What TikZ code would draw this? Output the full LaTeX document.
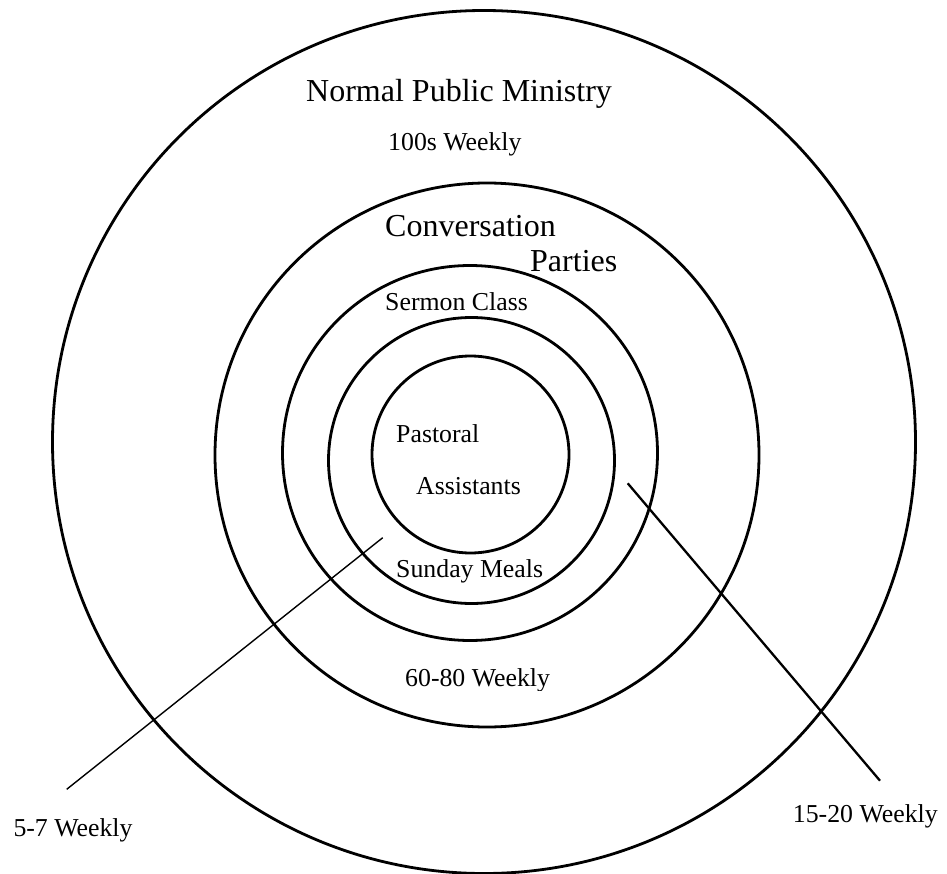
\documentclass[tikz,border=0pt]{standalone}
\usepackage{fontspec}
\setmainfont{Liberation Serif}
\begin{document}
\begin{tikzpicture}[x=1pt,y=-1pt,
  ring/.style={draw=black, line width=2.8pt, circle, inner sep=0pt, outer sep=0pt},
  bigtxt/.style={anchor=base west, inner sep=0pt, font=\fontsize{32}{38}\selectfont},
  smalltxt/.style={anchor=base west, inner sep=0pt, font=\fontsize{25.8}{31}\selectfont},
  leader/.style={draw=black, line width=1.4pt}]
\useasboundingbox (0,0) rectangle (947,874);
\fill[white] (0,0) rectangle (947,874);
% rings
\node[ring, minimum size=863pt] (outer) at (484,442) {};
\node[ring, minimum size=544pt] (conv) at (487,455) {};
\node[ring, minimum size=375pt] (sermon) at (470,453) {};
\node[ring, minimum size=286pt] (meals) at (471.5,460.5) {};
\node[ring, minimum size=197pt] (pastoral) at (470.5,454.5) {};
% labels
\node[bigtxt] (tnpm) at (306,101.5) {Normal Public Ministry};
\node[smalltxt] (t100) at (388,150.5) {100s Weekly};
\node[bigtxt] (tconv) at (385,236.5) {Conversation};
\node[bigtxt] (tpart) at (530,271.5) {Parties};
\node[smalltxt] (tserm) at (385,310.5) {Sermon Class};
\node[smalltxt] (tpast) at (396,442.5) {Pastoral};
\node[smalltxt] (tassi) at (416,494) {Assistants};
\node[smalltxt] (tsund) at (396,577.3) {Sunday Meals};
\begin{scope}
\clip (380,640) rectangle (600,690);
\node[smalltxt] (t6080) at (405,686.7) {60-80 Weekly};
\end{scope}
\node[smalltxt] (t57) at (13.3,836) {5-7 Weekly};
\node[smalltxt] (t1520) at (792.7,822.7) {15-20 Weekly};
% leader lines
\coordinate (l1a) at (382.7,537.7);
\coordinate (l1b) at (66.7,789.3);
\coordinate (l2a) at (627.7,483.3);
\coordinate (l2b) at (880,780.7);
\draw[leader] (l1a) -- (l1b);
\draw[leader, line width=2.3pt] (l2a) -- (l2b);
\end{tikzpicture}
\end{document}
